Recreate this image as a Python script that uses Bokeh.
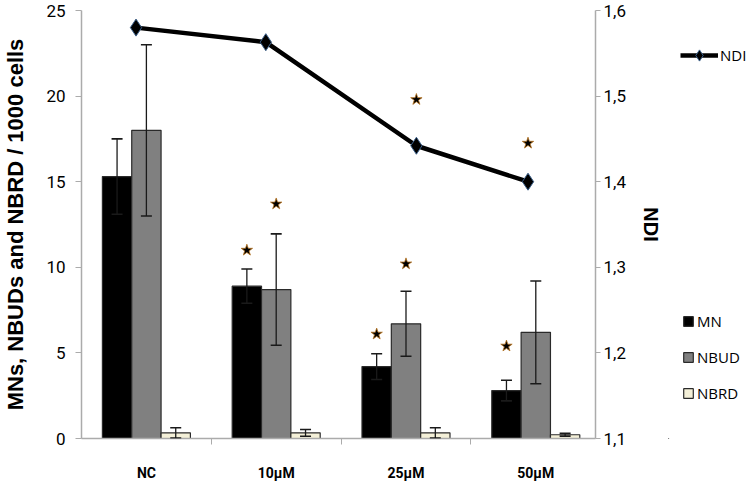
from bokeh.plotting import figure
from bokeh.layouts import row
from bokeh.models import (Range1d, LinearAxis, FixedTicker, CustomJSTickFormatter,
                          Whisker, ColumnDataSource, Legend, LegendItem, TeeHead)
from bokeh.embed import file_html
from bokeh.resources import INLINE

# ---------------- data ----------------
categories = ["NC", "10µM", "25µM", "50µM"]
mn = [15.3, 8.9, 4.2, 2.8]
mn_err = [2.2, 1.0, 0.75, 0.6]
nbud = [18.0, 8.7, 6.7, 6.2]
nbud_err = [5.0, 3.25, 1.9, 3.0]
nbrd = [0.33, 0.33, 0.33, 0.22]
nbrd_err = [0.3, 0.2, 0.3, 0.08]
ndi = [1.580, 1.563, 1.442, 1.400]
# significance marks (y position of the star, None = no star)
mn_star = [None, 11.0, 6.1, 5.4]
nbud_star = [None, 13.7, 10.2, None]
ndi_star = [None, None, 1.496, 1.445]
left_ticks = [0, 5, 10, 15, 20, 25]
right_ticks = [1.1, 1.2, 1.3, 1.4, 1.5, 1.6]

# ---------------- layout constants ----------------
BAR_W = 0.226
OFFS = {"mn": -0.226, "nbud": 0.0, "nbrd": 0.226}
NDI_OFFS = [-0.08, -0.08, 0.08, -0.06]
centers = [i + 0.5 for i in range(len(categories))]
H = 486
FRAME_TOP, FRAME_BOTTOM = 10, 438

p = figure(width=668, height=H, output_backend="svg", toolbar_location=None,
           x_range=Range1d(0, 3.96), y_range=Range1d(0, 25),
           min_border_left=78, min_border_right=73, min_border_top=FRAME_TOP,
           min_border_bottom=H - FRAME_BOTTOM)
p.extra_y_ranges = {"ndi": Range1d(1.1, 1.6)}
p.grid.visible = False
p.outline_line_color = None

AX_COL = "#ababab"
TICK_FONT = "Roboto"
TXT = "black"

# x axis
p.xaxis.ticker = FixedTicker(ticks=centers, minor_ticks=[1, 2, 3])
p.xaxis.formatter = CustomJSTickFormatter(args=dict(cats=categories),
                                          code="return cats[Math.floor(tick)];")
p.xaxis.major_tick_line_color = None
p.xaxis.minor_tick_line_color = AX_COL
p.xaxis.minor_tick_out = 6
p.xaxis.minor_tick_in = 0
p.xaxis.axis_line_color = AX_COL
p.xaxis.axis_line_width = 1.5
p.xaxis.major_label_text_font = TICK_FONT
p.xaxis.major_label_text_font_style = "bold"
p.xaxis.major_label_text_font_size = "14px"
p.xaxis.major_label_text_color = TXT
p.xaxis.major_label_standoff = 20

# left axis
p.yaxis.ticker = FixedTicker(ticks=left_ticks, minor_ticks=[])
p.yaxis.axis_line_color = AX_COL
p.yaxis.axis_line_width = 1.5
p.yaxis.major_tick_line_color = AX_COL
p.yaxis.major_tick_out = 6
p.yaxis.major_tick_in = 0
p.yaxis.minor_tick_line_color = None
p.yaxis.major_label_text_font = TICK_FONT
p.yaxis.major_label_text_font_size = "17px"
p.yaxis.major_label_text_color = TXT
p.yaxis.major_label_standoff = 10
p.yaxis.axis_label = "MNs, NBUDs and NBRD / 1000 cells"
p.yaxis.axis_label_text_font = "Liberation Sans"
p.yaxis.axis_label_text_font_style = "bold"
p.yaxis.axis_label_text_font_size = "22px"
p.yaxis.axis_label_text_color = TXT
p.yaxis.axis_label_standoff = 15

# right axis
ra = LinearAxis(y_range_name="ndi",
                ticker=FixedTicker(ticks=right_ticks, minor_ticks=[]),
                formatter=CustomJSTickFormatter(code="return tick.toFixed(1).replace('.', ',');"))
ra.axis_line_color = AX_COL
ra.axis_line_width = 1.5
ra.major_tick_line_color = AX_COL
ra.major_tick_out = 5
ra.major_tick_in = 0
ra.minor_tick_line_color = None
ra.major_label_text_font = TICK_FONT
ra.major_label_text_font_size = "17px"
ra.major_label_text_color = TXT
ra.major_label_standoff = 3
ra.axis_label = "NDI"
ra.axis_label_text_font = "Liberation Sans"
ra.axis_label_text_font_style = "bold"
ra.axis_label_text_font_size = "20px"
ra.axis_label_text_color = TXT
ra.axis_label_standoff = 11
p.add_layout(ra, "right")

# ---------------- bars ----------------
def bar_source(vals, errs, key):
    xs = [c + OFFS[key] for c in centers]
    return ColumnDataSource(dict(x=xs, top=vals,
                                 upper=[v + e for v, e in zip(vals, errs)],
                                 lower=[v - e for v, e in zip(vals, errs)]))

BAR_LINE = "#2a2a2a"
styles = [("mn", mn, mn_err, "#000000", "MN"),
          ("nbud", nbud, nbud_err, "#808080", "NBUD"),
          ("nbrd", nbrd, nbrd_err, "#f4f0d8", "NBRD")]
for key, vals, errs, col, lab in styles:
    src = bar_source(vals, errs, key)
    p.vbar(x="x", top="top", bottom=0, width=BAR_W, source=src,
           fill_color=col, line_color=BAR_LINE, line_width=1.2)
    w = Whisker(source=src, base="x", upper="upper", lower="lower",
                line_color="#1a1a1a", line_width=1.3, level="annotation",
                upper_head=TeeHead(size=11, line_color="#1a1a1a", line_width=1.6),
                lower_head=TeeHead(size=11, line_color="#1a1a1a", line_width=1.6))
    p.add_layout(w)

# ---------------- NDI line ----------------
ndi_x = [c + o for c, o in zip(centers, NDI_OFFS)]
ndi_src = ColumnDataSource(dict(x=ndi_x, y=ndi))
LINE_KW = dict(line_color="black", line_width=4.5)
MK_KW = dict(marker="diamond", size=17, fill_color="black", line_color="#3a5f8a", line_width=1)
p.line("x", "y", source=ndi_src, y_range_name="ndi", **LINE_KW)
p.scatter("x", "y", source=ndi_src, y_range_name="ndi", **MK_KW)

# ---------------- significance stars ----------------
STAR_KW = dict(marker="star", size=12, fill_color="black", line_color="#b8741f", line_width=0.8)

def star_pts(ys, xs):
    return [x for x, y in zip(xs, ys) if y is not None], [y for y in ys if y is not None]

sx, sy = star_pts(mn_star, [c + OFFS["mn"] for c in centers])
p.scatter(sx, sy, **STAR_KW)
sx, sy = star_pts(nbud_star, [c + OFFS["nbud"] for c in centers])
p.scatter(sx, sy, **STAR_KW)
sx, sy = star_pts(ndi_star, ndi_x)
p.scatter(sx, sy, y_range_name="ndi", **STAR_KW)

# ---------------- legend panel (separate figure to the right) ----------------
# its frame is aligned with the main frame by the row layout (y 10..438)
q = figure(width=80, height=H, output_backend="svg", toolbar_location=None,
           x_range=Range1d(0, 1), y_range=Range1d(0, 1),
           x_axis_location=None, y_axis_location=None,
           min_border_left=0, min_border_right=0, min_border_top=0, min_border_bottom=0)
q.grid.visible = False
q.outline_line_color = None
# legend proxies: one point each, placed far outside the visible range
ql = q.line([-50, -40], [-50, -40], **LINE_KW)
qm = q.scatter([-50], [-50], **MK_KW)
bar_rs = []
for key, vals, errs, col, lab in styles:
    bar_rs.append((lab, q.vbar(x=[-50], top=[-50], bottom=-60, width=0.1, fill_color=col,
                               line_color=BAR_LINE, line_width=1.2)))

LEG_KW = dict(padding=0, margin=0, border_line_color=None, background_fill_alpha=0,
              label_text_font="Open Sans", label_text_font_size="15px",
              label_text_color=TXT)
leg1 = Legend(items=[LegendItem(label="NDI", renderers=[ql, qm])],
              location=(12, FRAME_BOTTOM - 69),
              glyph_width=38, glyph_height=28, label_height=16, label_standoff=2, **LEG_KW)
leg2 = Legend(items=[LegendItem(label=lab, renderers=[r]) for lab, r in bar_rs],
              location=(14, FRAME_BOTTOM - 403),
              glyph_width=12, glyph_height=12, label_height=16, label_standoff=3,
              spacing=16, **LEG_KW)
q.add_layout(leg1)
q.add_layout(leg2)

layout = row(p, q)
open("out.html", "w").write(file_html(layout, INLINE))
